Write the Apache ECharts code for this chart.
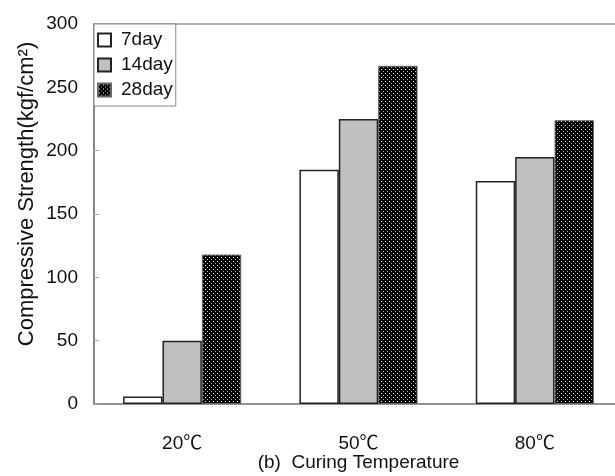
<!DOCTYPE html>
<html>
<head>
<meta charset="utf-8">
<script src="https://cdn.jsdelivr.net/npm/echarts@6/dist/echarts.min.js"></script>
<style>html,body{margin:0;padding:0;background:#fff;}#c{width:615px;height:476px;}</style>
</head>
<body>
<div id="c"></div>
<script>
const categories = ['20℃', '50℃', '80℃'];
const seriesNames = ['7day', '14day', '28day'];
const day7 = [6, 185, 176];
const day14 = [50, 225, 195];
const day28 = [118, 267, 224];
const yTicks = [0, 50, 100, 150, 200, 250, 300];

function dotPattern() {
  const c = document.createElement('canvas');
  c.width = 4; c.height = 4;
  const g = c.getContext('2d');
  g.fillStyle = '#000'; g.fillRect(0, 0, 4, 4);
  g.fillStyle = '#f0f0f0'; g.fillRect(1, 1, 1, 1);
  g.fillStyle = '#a8a8a8'; g.fillRect(3, 3, 1, 1);
  return c;
}

const FONT = 'Liberation Sans, Noto Sans CJK KR, sans-serif';
const chart = echarts.init(document.getElementById('c'), null, {renderer: 'canvas'});
const styles = [
  {color: '#ffffff', borderColor: '#222', borderWidth: 1.5},
  {color: '#c0c0c0', borderColor: '#222', borderWidth: 1.5},
  {color: {image: dotPattern(), repeat: 'repeat'}, borderColor: '#666', borderWidth: 1}
];
const data = [day7, day14, day28];
chart.setOption({
  backgroundColor: '#fff',
  animation: false,
  textStyle: {fontFamily: FONT},
  grid: {left: 94, top: 24, right: -8, bottom: 72, show: true, borderColor: '#999', borderWidth: 1.5,
    backgroundColor: '#fff', containLabel: false, outerBoundsMode: 'none'},
  legend: {
    orient: 'vertical', left: 94, top: 24,
    data: seriesNames,
    icon: 'rect',
    itemWidth: 13, itemHeight: 13, itemGap: 5,
    padding: [6, 3, 6, 3],
    borderColor: '#888', borderWidth: 1,
    backgroundColor: '#fff',
    textStyle: {fontSize: 19, color: '#111', lineHeight: 20, padding: [0, 0, 0, 5]}
  },
  xAxis: {
    type: 'category', data: categories,
    name: '(b)  Curing Temperature', nameLocation: 'middle', nameGap: 49,
    nameMoveOverlap: false,
    nameTextStyle: {fontSize: 19, color: '#111'},
    axisLine: {lineStyle: {color: '#888', width: 1.5}},
    axisTick: {inside: true, length: 6, lineStyle: {color: '#aaa'}},
    axisLabel: {fontSize: 19, color: '#111', margin: 30}
  },
  yAxis: {
    type: 'value', min: 0, max: 300, interval: 50,
    name: 'Compressive Strength(kgf/cm²)', nameLocation: 'middle', nameGap: 56,
    nameMoveOverlap: false,
    nameTextStyle: {fontSize: 22, color: '#111', padding: [0, 0, 0, 40]},
    axisLine: {show: true, lineStyle: {color: '#777', width: 1.5}},
    axisTick: {show: true, inside: true, length: 5, lineStyle: {color: '#aaa'}},
    splitLine: {show: false},
    axisLabel: {fontSize: 19, color: '#111', margin: 16,
      formatter: v => yTicks.includes(v) ? String(v) : ''}
  },
  series: seriesNames.map((n, i) => ({
    name: n, type: 'bar', data: data[i],
    barGap: '0%', barCategoryGap: '33%',
    itemStyle: styles[i]
  }))
});
</script>
</body>
</html>
